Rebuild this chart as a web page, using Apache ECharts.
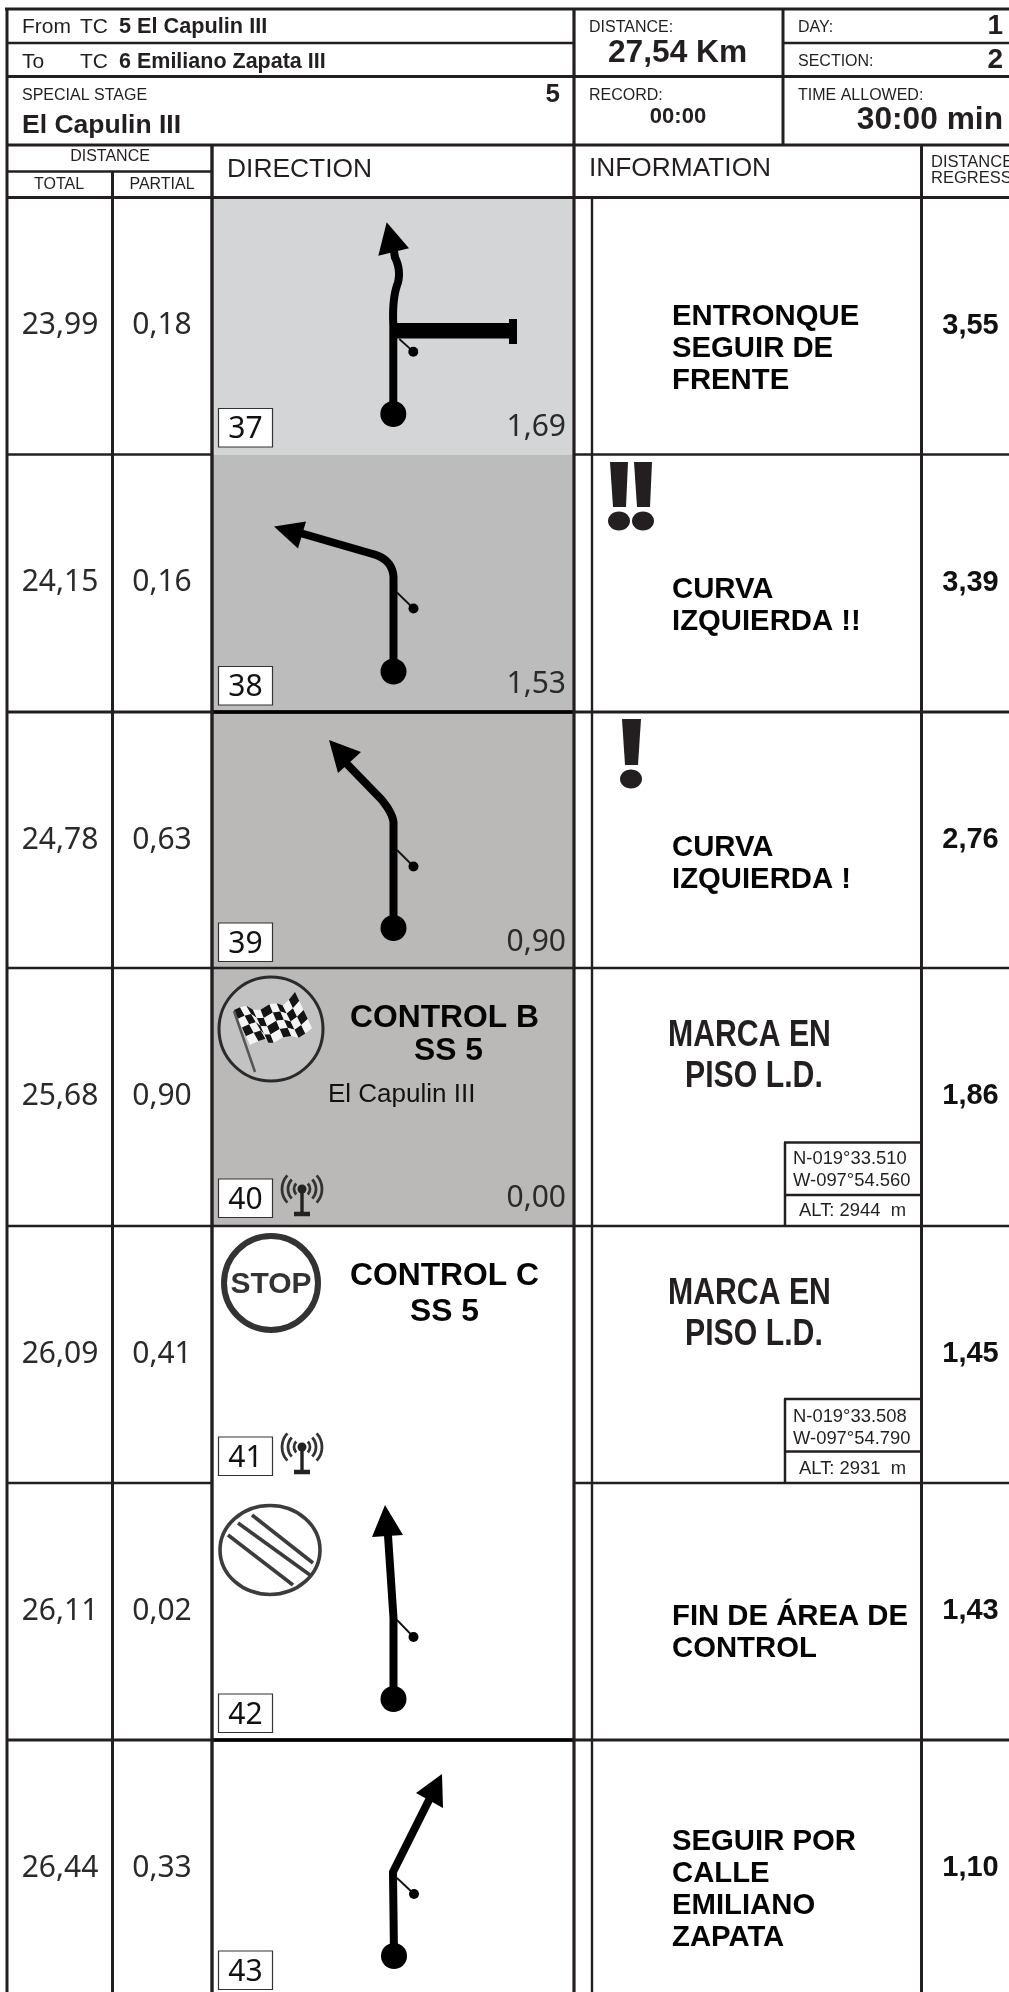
<!DOCTYPE html>
<html><head><meta charset="utf-8">
<style>html,body{margin:0;padding:0;background:#fff}#c{width:1009px;height:1992px}</style>
<script src="https://cdn.jsdelivr.net/npm/echarts@6/dist/echarts.min.js"></script>
</head><body><div id="c"></div>
<script>
// ---- content read from the roadbook ----
const steps    = ['37','38','39','40','41','42','43'];
const totals   = ['23,99','24,15','24,78','25,68','26,09','26,11','26,44'];
const partials = ['0,18','0,16','0,63','0,90','0,41','0,02','0,33'];
const legs     = ['1,69','1,53','0,90','0,00','','',''];
const regress  = ['3,55','3,39','2,76','1,86','1,45','1,43','1,10'];
const cues = [
  ['ENTRONQUE','SEGUIR DE','FRENTE'],
  ['CURVA','IZQUIERDA !!'],
  ['CURVA','IZQUIERDA !'],
  [],
  [],
  ['FIN DE ÁREA DE','CONTROL'],
  ['SEGUIR POR','CALLE','EMILIANO','ZAPATA']
];
const marks = [null,null,null,['MARCA EN','PISO L.D.'],['MARCA EN','PISO L.D.'],null,null];
const gps   = [null,null,null,['N-019°33.510','W-097°54.560','ALT: 2944  m'],['N-019°33.508','W-097°54.790','ALT: 2931  m'],null,null];
const controls = [null,null,null,['CONTROL B','SS 5','El Capulin III'],['CONTROL C','SS 5'],null,null];

// ---- layout ----
const rowTop = [197.5,454.5,712,968,1226,1483,1740,1992];
const fills  = ['#d4d5d7','#bcbcbc','#bab9b7','#bab9b7',null,null,null];
const INK = '#231f20';
const SANS = '"Liberation Sans",Arial,sans-serif';
const LIGHT = '"Noto Sans","Open Sans",sans-serif';

const roads = [
  {start:[393.3,216.5], seg:[[393.3,128],[392,100,398,85],[401,72,395,60],[394,54]], head:[[386.7,24.8],[378.3,58.2],[409,50.8]]},
  {start:[393.5,217], seg:[[393.5,122],[392,104,371,99],[295,77]], head:[[274,72],[306,67],[298,94]]},
  {start:[393.5,216], seg:[[393.5,110],[392,100,381,87],[345,50]], head:[[329,28],[361,40],[338,61]]},
  null,null,
  {start:[393.5,216], seg:[[393.5,135],[387.5,45]], head:[[385,22],[372,54],[403,52]]},
  {start:[394,216], seg:[[393,132],[431,56]], head:[[442,34],[416,53],[443,68]]}
];
const whiskers = [[399.3,141.5,413.3,154.2],[397,138,413.5,154],[397,138,413.5,154.5],null,null,[397,137,413.5,154],[397,138,414,154]];

let api0;
const P = (x,y)=>api0.coord([x,y]);
function T(x,y,text,o){
  o=o||{};
  const size=o.size||16, p=P(x,y-0.30*size);
  return {type:'text',x:p[0],y:p[1],scaleX:o.sx||1,silent:true,
    style:{x:0,y:0,text:text,fill:o.fill||INK,align:o.align||'left',verticalAlign:'middle',
      font:(o.weight||'normal')+' '+size+'px '+(o.family||SANS)}};
}
function L(x1,y1,x2,y2,w,c){
  const a=P(x1,y1),b=P(x2,y2);
  return {type:'line',shape:{x1:a[0],y1:a[1],x2:b[0],y2:b[1]},silent:true,style:{stroke:c||INK,lineWidth:w||3,lineCap:'butt'}};
}
function R(x,y,w,h,fill,stroke,lw){
  const a=P(x,y);
  return {type:'rect',shape:{x:a[0],y:a[1],width:w,height:h},silent:true,style:{fill:fill,stroke:stroke||null,lineWidth:lw||0}};
}
function C(x,y,r,fill,stroke,lw){
  const a=P(x,y);
  return {type:'circle',shape:{cx:a[0],cy:a[1],r:r},silent:true,style:{fill:fill||null,stroke:stroke||null,lineWidth:lw||0}};
}
function E(x,y,rx,ry,fill,stroke,lw){
  const a=P(x,y);
  return {type:'ellipse',shape:{cx:a[0],cy:a[1],rx:rx,ry:ry},silent:true,style:{fill:fill||null,stroke:stroke||null,lineWidth:lw||0}};
}
function Poly(pts,fill){
  return {type:'polygon',shape:{points:pts.map(p=>P(p[0],p[1]))},silent:true,style:{fill:fill||'#000'}};
}
function road(r,top){
  const pts=[P(r.start[0],top+r.start[1])];
  let cur=r.start;
  r.seg.forEach(s=>{
    if(s.length===2){pts.push(P(s[0],top+s[1]));cur=s;}
    else{
      for(let i=1;i<=10;i++){const t=i/10,u=1-t;
        pts.push(P(u*u*cur[0]+2*u*t*s[0]+t*t*s[2],top+u*u*cur[1]+2*u*t*s[1]+t*t*s[3]));}
      cur=[s[2],s[3]];
    }
  });
  const out=[{type:'polyline',shape:{points:pts},silent:true,style:{stroke:'#000',lineWidth:8,fill:null,lineJoin:'round'}}];
  out.push(Poly(r.head.map(h=>[h[0],top+h[1]])));
  out.push(C(r.start[0],top+r.start[1],13,'#000'));
  return out;
}
function antenna(x,y){ // x,y = dot
  const kids=[],a=P(x,y);
  [8,14,20].forEach(rad=>{
    kids.push({type:'arc',shape:{cx:a[0],cy:a[1],r:rad,startAngle:-0.75,endAngle:0.75},silent:true,style:{stroke:'#333',fill:null,lineWidth:2.8}});
    kids.push({type:'arc',shape:{cx:a[0],cy:a[1],r:rad,startAngle:Math.PI-0.75,endAngle:Math.PI+0.75},silent:true,style:{stroke:'#333',fill:null,lineWidth:2.8}});
  });
  kids.push(C(x,y,4.5,'#222'));
  kids.push(L(x,y,x,y+25,3.4,'#222'));
  kids.push(L(x-8,y+25,x+8,y+25,4.5,'#222'));
  return kids;
}
function flag(){
  const kids=[C(271,1029,52,'#c2c2c2','#2a2a2a',3)];
  const lerpPoly=(poly,t)=>{
    const f=t*(poly.length-1),i=Math.min(Math.floor(f),poly.length-2),k=f-i;
    return [poly[i][0]+(poly[i+1][0]-poly[i][0])*k,poly[i][1]+(poly[i+1][1]-poly[i][1])*k];
  };
  const topE=[[234,1010],[245,1005],[257,1012],[273,1002],[284,1006],[295,992]];
  const botE=[[250,1045],[265,1038],[270,1045],[287,1035],[300,1038],[312,1028]];
  const cols=9,rows=4;
  const pt=(i,j)=>{const a=lerpPoly(topE,i/cols),b=lerpPoly(botE,i/cols),v=j/rows;return [a[0]+(b[0]-a[0])*v,a[1]+(b[1]-a[1])*v];};
  for(let i=0;i<cols;i++)for(let j=0;j<rows;j++){
    kids.push(Poly([pt(i,j),pt(i+1,j),pt(i+1,j+1),pt(i,j+1)],(i+j)%2?'#f4f4f4':'#141414'));
  }
  kids.push(L(234,1011,255,1072,2.5,'#555'));
  return kids;
}
function specials(i,top){
  const k=[];
  if(i===0){
    k.push(R(393,top+125.5,116,15.5,'#000'));
    k.push(R(509,top+121.5,8,25,'#000'));
  }
  if(i===1){
    [[610,628,613,626,619],[634,652,637,650,643]].forEach(b=>{
      k.push(Poly([[b[0],462],[b[1],462],[b[3],507],[b[2],507]],INK));
      k.push(E(b[4],521,11,9.5,INK));
    });
  }
  if(i===2){
    k.push(Poly([[622,719],[641,719],[638,765],[625,765]],INK));
    k.push(E(631,779,11,9.5,INK));
  }
  if(i===3){ k.push(...flag()); k.push(...antenna(302,top+221)); }
  if(i===4){
    k.push(C(271,1283,47,null,'#333',6));
    k.push(T(271,1294,'STOP',{size:30,weight:'bold',align:'center',fill:'#333'}));
    k.push(...antenna(302,top+221));
  }
  if(i===5){
    k.push(E(270,1550,50,44.5,null,'#3c3c3c',3.6));
    k.push(L(252,1515,313,1563,3.6,'#3c3c3c'));
    k.push(L(238,1523,310,1575,3.6,'#3c3c3c'));
    k.push(L(228,1535,293,1585,3.6,'#3c3c3c'));
  }
  return k;
}
function renderRow(params,api){
  api0=api;
  const i=api.value(0),top=rowTop[i],bot=rowTop[i+1],k=[];
  const NUM={size:30,family:LIGHT,fill:'#2a2a2a'};
  if(fills[i]) k.push(R(212,top,362,bot-top,fills[i]));
  k.push(T(60,top+137,totals[i],{...NUM,align:'center'}));
  k.push(T(162,top+137,partials[i],{...NUM,align:'center'}));
  k.push(T(970.5,top+137,regress[i],{size:29,weight:'bold',align:'center',fill:'#111'}));
  const bt=i===0?211:(i===1?212:211);
  k.push(R(218.5,top+bt,54,38.5,'#fff','#333',1.2));
  k.push(T(245.5,top+bt+30,steps[i],{...NUM,align:'center',fill:'#111'}));
  if(legs[i]) k.push(T(566,top+239,legs[i],{...NUM,align:'right'}));
  if(roads[i]) k.push(...road(roads[i],top));
  if(whiskers[i]){
    const w=whiskers[i];
    k.push(L(w[0],top+w[1],w[2],top+w[3],1.8,'#111'));
    k.push(C(w[2],top+w[3],5,'#000'));
  }
  const firstLine=[128,144,145,0,0,143,111][i];
  cues[i].forEach((s,n)=>k.push(T(672,top+firstLine+n*32,s,{size:29.3,weight:'bold',fill:'#050505'})));
  if(marks[i]){
    k.push(T(668,top+79,marks[i][0],{size:36,weight:'bold',sx:0.84}));
    k.push(T(685,top+120,marks[i][1],{size:36,weight:'bold',sx:0.84}));
  }
  if(controls[i]){
    k.push(T(350,top+60,controls[i][0],{size:31.8,weight:'bold',fill:'#050505'}));
    k.push(T(i===3?414:410,top+(i===3?93:96),controls[i][1],{size:31.8,weight:'bold',fill:'#050505'}));
    if(controls[i][2]) k.push(T(328,top+135,controls[i][2],{size:26,fill:'#111'}));
  }
  if(gps[i]){
    const a=i===3?174.5:173,d=i===3?227:225.5;
    k.push(L(785,top+a,785,bot,2.5));
    k.push(L(784,top+a,921,top+a,2.5));
    k.push(L(784,top+d,921,top+d,2.5));
    k.push(T(793,top+196,gps[i][0],{size:18.4}));
    k.push(T(793,top+218,gps[i][1],{size:18.4}));
    k.push(T(799,top+248,gps[i][2],{size:18.4}));
  }
  k.push(...specials(i,top));
  return {type:'group',children:k};
}
function renderSheet(params,api){
  api0=api;
  const k=[],B=1992;
  // horizontals
  k.push(L(5,9,1009,9,3.2));
  k.push(L(6,43,574,43,2.6)); k.push(L(783,43,1009,43,2.6));
  k.push(L(6,76.5,1009,76.5,3));
  k.push(L(6,145,1009,145,3));
  k.push(L(6,171.5,212,171.5,2.6));
  k.push(L(6,197.5,1009,197.5,3));
  // row rules: full width where adjoining cells are visibly separated
  const fullRules=[712,968,1226,1740], partRules=[454.5,1483];
  fullRules.forEach(y=>k.push(L(6,y,1009,y,y===712||y===1740?3:2.6)));
  fullRules.forEach(y=>{if(y===712||y===1740)k.push(L(212,y,574,y,3.6,'#000'));});
  partRules.forEach(y=>{k.push(L(6,y,212,y,2.6));k.push(L(574,y,1009,y,2.6));});
  // verticals
  k.push(L(7,8,7,B,3));
  k.push(L(112.5,171,112.5,B,3));
  k.push(L(212,145,212,B,3.4));
  k.push(L(574,8,574,B,3.2));
  k.push(L(592,197,592,B,2.4));
  k.push(L(783,8,783,145,3));
  k.push(L(921.5,145,921.5,B,3));
  // header text
  k.push(T(22,34,'From',{size:21}));
  k.push(T(80,34,'TC',{size:21}));
  k.push(T(119,34,'5 El Capulin III',{size:21.7,weight:'bold'}));
  k.push(T(22,69,'To',{size:21}));
  k.push(T(80,69,'TC',{size:21}));
  k.push(T(119,69,'6 Emiliano Zapata III',{size:21.5,weight:'bold'}));
  k.push(T(22,100,'SPECIAL STAGE',{size:16}));
  k.push(T(560,103,'5',{size:26,weight:'bold',align:'right'}));
  k.push(T(22,134,'El Capulin III',{size:26.5,weight:'bold'}));
  k.push(T(110,161,'DISTANCE',{size:16,align:'center'}));
  k.push(T(59,189,'TOTAL',{size:16,align:'center'}));
  k.push(T(162,189,'PARTIAL',{size:16,align:'center'}));
  k.push(T(227,178,'DIRECTION',{size:26.4}));
  k.push(T(589,32,'DISTANCE:',{size:16}));
  k.push(T(608,63,'27,54 Km',{size:31.7,weight:'bold'}));
  k.push(T(798,32,'DAY:',{size:16}));
  k.push(T(1003,35,'1',{size:28,weight:'bold',align:'right'}));
  k.push(T(798,66,'SECTION:',{size:16}));
  k.push(T(1003,69,'2',{size:28,weight:'bold',align:'right'}));
  k.push(T(589,100,'RECORD:',{size:16}));
  k.push(T(678,124,'00:00',{size:22,weight:'bold',align:'center'}));
  k.push(T(798,100,'TIME ALLOWED:',{size:16}));
  k.push(T(1003,130,'30:00 min',{size:31.7,weight:'bold',align:'right'}));
  k.push(T(589,177,'INFORMATION',{size:26.3}));
  k.push(T(931,167,'DISTANCE',{size:16.5}));
  k.push(T(931,183,'REGRESS',{size:16.5}));
  return {type:'group',children:k};
}
const chart=echarts.init(document.getElementById('c'),null,{renderer:'canvas',width:1009,height:1992});
chart.setOption({
  animation:false,backgroundColor:'#fff',
  grid:{left:0,top:0,width:1009,height:1992},
  xAxis:{type:'value',min:0,max:1009,show:false},
  yAxis:{type:'value',min:0,max:1992,inverse:true,show:false},
  tooltip:{show:false},
  series:[
    {type:'custom',name:'rows',coordinateSystem:'cartesian2d',clip:false,silent:true,data:steps.map((s,i)=>[i]),encode:{x:0,y:0},renderItem:renderRow,z:2},
    {type:'custom',name:'sheet',coordinateSystem:'cartesian2d',clip:false,silent:true,data:[[0]],encode:{x:0,y:0},renderItem:renderSheet,z:3}
  ]
});
</script></body></html>
